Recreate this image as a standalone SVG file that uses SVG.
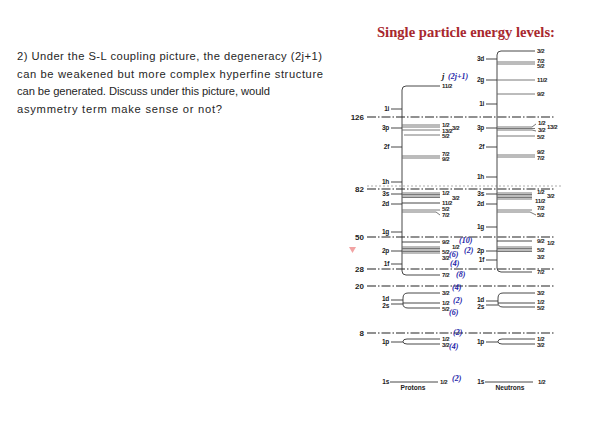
<svg xmlns="http://www.w3.org/2000/svg" width="616" height="443" viewBox="0 0 616 443">
<style>
.q{font-family:"Liberation Sans",Arial,sans-serif;font-size:11.2px;fill:#262626}
.title{font-family:"Liberation Serif","Times New Roman",serif;font-weight:bold;font-size:14.6px;fill:#a8282e}
.lbl{font-family:"Liberation Sans",Arial,sans-serif;font-weight:bold;font-size:6px;letter-spacing:-0.35px;fill:#222}
.nl{font-family:"Liberation Sans",Arial,sans-serif;font-weight:bold;font-size:6.5px;letter-spacing:-0.3px;fill:#222;text-anchor:end}
.mag{font-family:"Liberation Sans",Arial,sans-serif;font-weight:bold;font-size:8px;fill:#222;text-anchor:end}
.deg{font-family:"Liberation Serif","Times New Roman",serif;font-style:italic;font-weight:bold;font-size:8px;fill:#1c1ca8}
.jj{font-family:"Liberation Serif","Times New Roman",serif;font-style:italic;font-weight:bold;font-size:8.5px;fill:#111}
.cap{font-family:"Liberation Sans",Arial,sans-serif;font-weight:bold;font-size:6.6px;fill:#222;text-anchor:middle}
.lv{stroke:#333;stroke-width:0.9;fill:none}
.bd{stroke:#6a6a6a;stroke-width:0.9;fill:none}
.magic{stroke:#222;stroke-width:1.1;stroke-dasharray:9 2 1.5 2;fill:none}
.dot{stroke:#777;stroke-width:0.6;stroke-dasharray:2 2;fill:none}
</style>

<g id="question">
<text class="q" x="17" y="60" textLength="305" lengthAdjust="spacing">2) Under the S-L coupling picture, the degeneracy (2j+1)</text>
<text class="q" x="17" y="77.5" textLength="306" lengthAdjust="spacing">can be weakened but more complex hyperfine structure</text>
<text class="q" x="17" y="95" textLength="253" lengthAdjust="spacing">can be generated. Discuss under this picture, would</text>
<text class="q" x="17" y="112.5" textLength="205" lengthAdjust="spacing">asymmetry term make sense or not?</text>
</g>

<g id="title"><text class="title" x="377" y="37">Single particle energy levels:</text></g>

<g id="magic-lines">
<line class="dot" x1="367" y1="186" x2="563" y2="186"/>
<line class="magic" x1="367" y1="117" x2="554" y2="117"/>
<line class="magic" x1="367" y1="189" x2="554" y2="189"/>
<line class="magic" x1="367" y1="237" x2="554" y2="237"/>
<line class="magic" x1="367" y1="269" x2="554" y2="269"/>
<line class="magic" x1="367" y1="286" x2="554" y2="286"/>
<line class="magic" x1="367" y1="333" x2="554" y2="333"/>
<text class="mag" x="364" y="120">126</text>
<text class="mag" x="364" y="192">82</text>
<text class="mag" x="364" y="240">50</text>
<text class="mag" x="364" y="272">28</text>
<text class="mag" x="364" y="289">20</text>
<text class="mag" x="364" y="336">8</text>
</g>

<g id="connectors">
<path class="lv" d="M440,86 H406 Q402,86 402,90 V271 Q402,275 406,275 H440"/>
<path class="lv" d="M391,109 H402 M391,128 H402 M391,147 H402 M391,182 H402 M391,194 H402 M391,204 H402 M391,232 H402 M391,251 H402 M391,264 H402"/>
<path class="lv" d="M440,293 H408 Q403,293 403,298 V304 Q403,308 408,308 H440 M403,303 H440 M391,300 H403 M391,304 H403"/>
<path class="lv" d="M440,339 H407 Q403,339 403,341.5 Q403,344 407,344 H440 M391,342 H403"/>
<path class="lv" d="M390,382 H438"/>
<path class="bd" d="M402,125 H440 M402,127 H440 M402,130 H440 M404,135 H440"/>
<path class="bd" d="M402,156 H440 M402,158 H440"/>
<path class="bd" d="M402,193 H440 M402,194.5 H440 M402,196 H440 M402,197.5 H440"/>
<path class="lv" d="M402,203 H440"/>
<path class="bd" d="M402,210 H440 M402,212 H436 L440,215"/>
<path class="lv" d="M402,242 H440"/>
<path class="bd" d="M402,247 H440 M402,248.5 H440 M402,250 H440 M402,251.5 H440 M402,253 H440"/>
<path class="lv" d="M535,51 H501 Q497,51 497,55 V268 Q497,272 501,272 H532"/>
<path class="lv" d="M486,59 H497 M486,80 H497 M486,104 H497 M486,128 H497 M486,147 H497 M486,177 H497 M486,194 H497 M486,204 H497 M486,251 H497 M486,260 H497"/>
<path class="lv" d="M486,227 H497" stroke-width="1.8"/>
<path class="lv" d="M535,293 H503 Q498,293 498,298 V303 Q498,307 503,307 H535 M498,303 H535 M486,301 H498 M486,305 H498"/>
<path class="lv" d="M535,339 H502 Q498,339 498,341.5 Q498,344 502,344 H535 M486,342 H498"/>
<path class="lv" d="M485,382 H533"/>
<path class="bd" d="M497,62 H535 M497,64 H535 M497,80 H535 M497,94 H535"/>
<path class="bd" d="M497,127 H532 L536,124 M497,128.5 H535 M497,130 H532 L536,131 M497,136 H535"/>
<path class="bd" d="M497,155 H535 M497,157 H535"/>
<path class="bd" d="M497,193 H532 M497,194.5 H532 M497,196 H532 M497,197.5 H532 M497,199 H532"/>
<path class="bd" d="M497,210 H532 M497,212 H530 L536,215"/>
<path class="lv" d="M497,241 H532"/>
<path class="bd" d="M497,247 H532 M497,248.5 H532 M497,250 H532 M497,251.5 H532"/>
</g>

<g id="protons">
<text class="nl" x="389" y="111">1i</text>
<text class="nl" x="389" y="130">3p</text>
<text class="nl" x="389" y="149">2f</text>
<text class="nl" x="389" y="184">1h</text>
<text class="nl" x="389" y="196">3s</text>
<text class="nl" x="389" y="206">2d</text>
<text class="nl" x="389" y="234">1g</text>
<text class="nl" x="389" y="253">2p</text>
<text class="nl" x="389" y="266">1f</text>
<text class="nl" x="389" y="301">1d</text>
<text class="nl" x="389" y="307.5">2s</text>
<text class="nl" x="389" y="344">1p</text>
<text class="nl" x="389" y="384">1s</text>
<text class="cap" x="413" y="390">Protons</text>

<text class="jj" x="442" y="79">j</text>
<text class="deg" x="448" y="79" font-size="7.5">(2j+1)</text>

<text class="lbl" x="442" y="88">11/2</text>
<text class="lbl" x="442" y="127">1/2</text>
<text class="lbl" x="452" y="129.5">3/2</text>
<text class="lbl" x="442" y="133">13/2</text>
<text class="lbl" x="442" y="138">5/2</text>
<text class="lbl" x="442" y="156">7/2</text>
<text class="lbl" x="442" y="161">9/2</text>
<text class="lbl" x="442" y="195">1/2</text>
<text class="lbl" x="452" y="199.5">3/2</text>
<text class="lbl" x="442" y="205">11/2</text>
<text class="lbl" x="442" y="211">5/2</text>
<text class="lbl" x="442" y="217">7/2</text>
<text class="lbl" x="442" y="244">9/2</text>
<text class="lbl" x="452" y="249">1/2</text>
<text class="lbl" x="442" y="253.5">5/2</text>
<text class="lbl" x="442" y="260">3/2</text>
<text class="lbl" x="442" y="277">7/2</text>
<text class="lbl" x="442" y="295">3/2</text>
<text class="lbl" x="442" y="305">1/2</text>
<text class="lbl" x="442" y="311">5/2</text>
<text class="lbl" x="442" y="341">1/2</text>
<text class="lbl" x="442" y="346.5">3/2</text>
<text class="lbl" x="440" y="384">1/2</text>

<text class="deg" x="459" y="243">(10)</text>
<text class="deg" x="464" y="253">(2)</text>
<text class="deg" x="449" y="257">(6)</text>
<text class="deg" x="450" y="266">(4)</text>
<text class="deg" x="456" y="277">(8)</text>
<text class="deg" x="452" y="290">(4)</text>
<text class="deg" x="453" y="303">(2)</text>
<text class="deg" x="449" y="315">(6)</text>
<text class="deg" x="453" y="335">(2)</text>
<text class="deg" x="449" y="349">(4)</text>
<text class="deg" x="452" y="381">(2)</text>
</g>

<g id="neutrons">
<text class="nl" x="484" y="61">3d</text>
<text class="nl" x="484" y="82">2g</text>
<text class="nl" x="484" y="106">1i</text>
<text class="nl" x="484" y="130">3p</text>
<text class="nl" x="484" y="149">2f</text>
<text class="nl" x="484" y="179">1h</text>
<text class="nl" x="484" y="196">3s</text>
<text class="nl" x="484" y="206">2d</text>
<text class="nl" x="484" y="229">1g</text>
<text class="nl" x="484" y="253">2p</text>
<text class="nl" x="484" y="262">1f</text>
<text class="nl" x="484" y="302">1d</text>
<text class="nl" x="484" y="308.5">2s</text>
<text class="nl" x="484" y="344">1p</text>
<text class="nl" x="484" y="384">1s</text>
<text class="cap" x="510" y="390">Neutrons</text>

<text class="lbl" x="537" y="53">3/2</text>
<text class="lbl" x="537" y="62.5">7/2</text>
<text class="lbl" x="537" y="67.5">5/2</text>
<text class="lbl" x="537" y="82">11/2</text>
<text class="lbl" x="537" y="96">9/2</text>
<text class="lbl" x="538" y="124.5">1/2</text>
<text class="lbl" x="547" y="129">13/2</text>
<text class="lbl" x="538" y="132">3/2</text>
<text class="lbl" x="537" y="139">5/2</text>
<text class="lbl" x="537" y="154">9/2</text>
<text class="lbl" x="537" y="159.5">7/2</text>
<text class="lbl" x="537" y="194">1/2</text>
<text class="lbl" x="547" y="198">3/2</text>
<text class="lbl" x="535" y="202.5">11/2</text>
<text class="lbl" x="537" y="210">7/2</text>
<text class="lbl" x="537" y="216.5">5/2</text>
<text class="lbl" x="537" y="243">9/2</text>
<text class="lbl" x="547" y="245">1/2</text>
<text class="lbl" x="537" y="252">5/2</text>
<text class="lbl" x="537" y="259">3/2</text>
<text class="lbl" x="537" y="274">7/2</text>
<text class="lbl" x="537" y="295">3/2</text>
<text class="lbl" x="537" y="304">1/2</text>
<text class="lbl" x="537" y="309.5">5/2</text>
<text class="lbl" x="537" y="341">1/2</text>
<text class="lbl" x="537" y="346.5">3/2</text>
<text class="lbl" x="538" y="384">1/2</text>
</g>

<g id="marker"><polygon points="349,247 356,247 352.5,253" fill="#f2a3a3"/></g>
</svg>
